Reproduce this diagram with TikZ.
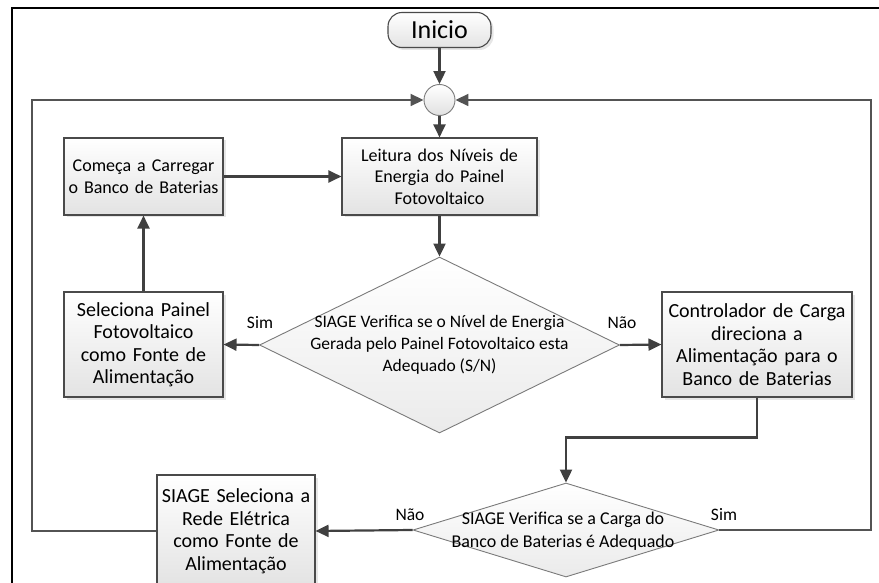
\documentclass[tikz,border=0pt]{standalone}
\usepackage{fontspec}
\setmainfont{Carlito}
\usetikzlibrary{arrows.meta,shapes.geometric,shadows}
\definecolor{lin}{HTML}{404040}
\definecolor{bord}{HTML}{4A4A4A}
\definecolor{dbord}{HTML}{7A7A7A}
\begin{document}
\begin{tikzpicture}[x=1pt,y=-1pt,
  box/.style={draw=bord, line width=1.1pt, top color=white, bottom color=black!11,
    drop shadow={opacity=0.2,shadow xshift=2.5pt,shadow yshift=-2.5pt},
    align=center, inner sep=1pt, font=\fontsize{20}{22.5}\selectfont},
  sbox/.style={box, font=\fontsize{18}{21.5}\selectfont},
  dia/.style={diamond, draw=dbord, line width=0.9pt, top color=white, bottom color=black!8, inner sep=0pt},
  dtext/.style={align=center, inner sep=0pt},
  lbl/.style={font=\fontsize{17.5}{20}\selectfont, inner sep=0pt},
  arr/.style={draw=lin, line width=2.2pt, -{Triangle[length=13pt,width=12pt]}},
  looparr/.style={draw=lin!90, line width=1.8pt, -{Triangle[length=13pt,width=12pt]}}
]
\useasboundingbox (0,0) rectangle (879,583);
% outer frame
\draw[black, line width=1.3pt] (879,8) -- (12,8) -- (12,583);

% nodes
\node[box, rounded corners=14pt, minimum width=103pt, minimum height=35pt,
  font=\fontsize{26}{28}\selectfont] (inicio) at (439.5,30) {Inicio};
\node[circle, draw=dbord, line width=0.9pt, top color=white, bottom color=black!12,
  minimum size=31pt, inner sep=0pt] (circ) at (439.5,100) {};
\node[sbox, minimum width=159pt, minimum height=77pt, text width=155pt] (comeca) at (143.5,176.5)
  {Começa a Carregar\\o Banco de Baterias};
\node[sbox, minimum width=195pt, minimum height=77pt, text width=190pt] (leitura) at (439.5,176.5)
  {Leitura dos Níveis de\\Energia do Painel\\Fotovoltaico};
\node[box, minimum width=159pt, minimum height=105pt, text width=155pt] (selec) at (143.5,344.5)
  {Seleciona Painel\\Fotovoltaico\\como Fonte de\\Alimentação};
\node[box, minimum width=190pt, minimum height=105pt, text width=188pt] (ctrl) at (757,344.5)
  {Controlador de Carga\\direciona a\\Alimentação para o\\Banco de Baterias};
\node[box, minimum width=158pt, minimum height=112pt, text width=155pt] (siage) at (236,531)
  {SIAGE Seleciona a\\Rede Elétrica\\como Fonte de\\Alimentação};
\node[dia, minimum width=360pt, minimum height=176pt] (d1) at (439.5,345) {};
\node[dtext, font=\fontsize{17.5}{22}\selectfont] (d1t) at (439.5,345)
  {SIAGE Verifica se o Nível de Energia\\Gerada pelo Painel Fotovoltaico esta\\Adequado (S/N)};
\node[dia, minimum width=306pt, minimum height=94pt] (d2) at (566,530) {};
\node[dtext, font=\fontsize{18}{23}\selectfont] (d2t) at (563,531.5)
  {SIAGE Verifica se a Carga do\\Banco de Baterias é Adequado};

% labels
\node[lbl] (sim1) at (260,323) {Sim};
\node[lbl] (nao1) at (622,323) {Não};
\node[lbl] (nao2) at (410,515) {Não};
\node[lbl] (sim2) at (724,515) {Sim};

% helper coordinates
\coordinate (rc) at (871,100);
\coordinate (lc) at (32,100);

% connectors
\draw[arr] (inicio.south) -- (circ.north);
\draw[arr] (circ.south) -- (leitura.north);
\draw[arr] (leitura.south) -- (d1.north);
\draw[arr] (d1.west) -- (selec.east);
\draw[arr] (d1.east) -- (ctrl.west);
\draw[arr] (selec.north) -- (comeca.south);
\draw[arr] (comeca.east) -- (leitura.west);
\draw[arr] (ctrl.south) -- ++(0,40) -| (d2.north);
\draw[arr] (d2.west) -- (siage.east);
\draw[looparr] (d2.east) -| (rc) -- (circ.east);
\draw[looparr] (siage.west) -| (lc) -- (circ.west);
\end{tikzpicture}
\end{document}
